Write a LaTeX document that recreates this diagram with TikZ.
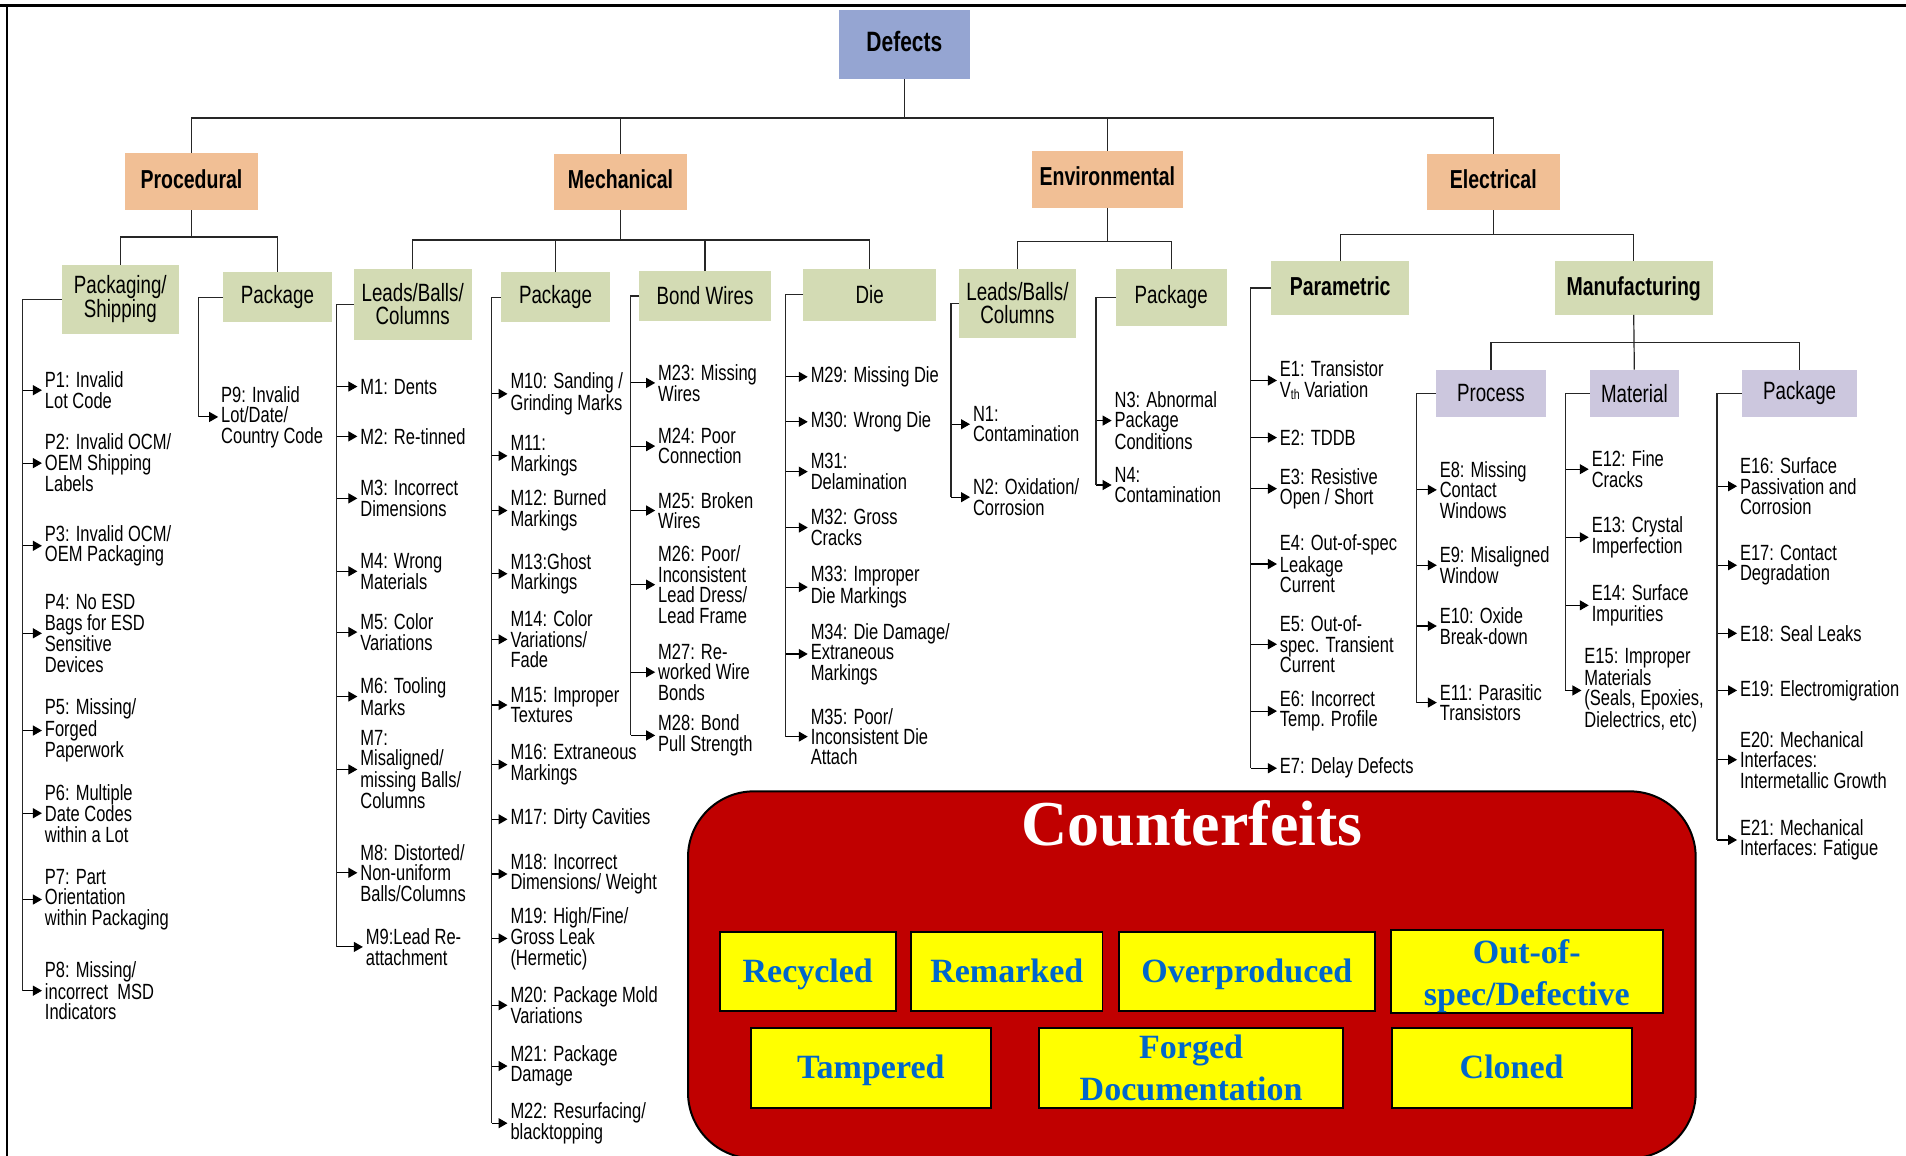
\documentclass[tikz,border=0pt]{standalone}
\usepackage{fontspec}
\usetikzlibrary{arrows.meta,calc}
\newfontfamily\nar{Liberation Sans}[FakeStretch=0.75]
\newfontfamily\tms{Liberation Serif}
\definecolor{cDef}{RGB}{149,165,210}
\definecolor{cOr}{RGB}{241,191,149}
\definecolor{cGr}{RGB}{211,219,180}
\definecolor{cLav}{RGB}{204,199,222}
\definecolor{cRed}{RGB}{192,0,0}
\definecolor{cYel}{RGB}{255,255,0}
\definecolor{cBlu}{RGB}{0,102,204}
\newcommand\lffont{\nar\fontsize{22}{20.5}\selectfont}
\newcommand\gbfont{\nar\fontsize{25}{23}\selectfont}
\newcommand\obfont{\nar\bfseries\fontsize{26}{26}\selectfont}
\newcommand\dffont{\nar\bfseries\fontsize{28}{28}\selectfont}
\newcommand\cfbfont{\tms\bfseries\fontsize{34}{42}\selectfont}
\newcommand\cftfont{\tms\bfseries\fontsize{64}{64}\selectfont}
\newcommand\thsub{\raisebox{-2.5pt}{\fontsize{14}{14}\selectfont th}}
\newcommand\lfnode[5]{\node[leaf] (#1) at (#2,#3) {#5}; \draw[arr] (#4 |- #1.west) -- (#1.west);}
\tikzset{
  wh/.style 2 args={minimum width=#1*1.2156pt, minimum height=#2*1.2156pt},
  box/.style={draw=none, align=center, inner sep=0pt, outer sep=0pt},
  gbox/.style={box, fill=cGr, font=\gbfont},
  obox/.style={box, fill=cOr, font=\obfont, text depth=6pt},
  lbox/.style={box, fill=cLav, font=\gbfont},
  leaf/.style={anchor=west, align=left, font=\lffont, inner xsep=3pt, inner ysep=0pt, outer sep=0pt},
  con/.style={line width=1.2pt, draw=black!85},
  arr/.style={line width=1.1pt, draw=black, -{Triangle[length=9pt,width=10pt]}},
  ybox/.style={draw=black, line width=1.8pt, fill=cYel, font=\cfbfont, text=cBlu, align=center, inner sep=0pt},
  yone/.style={ybox, text height=30pt, text depth=8pt},
}
\begin{document}
\begin{tikzpicture}[x=1.2156pt, y=-1.2156pt]
\useasboundingbox (0,0) rectangle (1568,951);
\clip (0,0) rectangle (1568,951);
\fill[white] (0,0) rectangle (1568,951);
% frame lines
\draw[line width=2.5pt] (0,4.5) -- (1568,4.5);
\draw[line width=2pt] (5.8,4.5) -- (5.8,951);

% top boxes
\node[box, fill=cDef, wh={108}{57}, font=\dffont, text depth=6pt] (defects) at (744,36.5) {Defects};
\node[obox, wh={109}{47}] (proc) at (157.5,149.5) {Procedural};
\node[obox, wh={109}{46}] (mech) at (510.5,150) {Mechanical};
\node[obox, wh={124}{47}] (env) at (911,147.5) {Environmental};
\node[obox, wh={109}{46}] (elec) at (1228.5,150) {Electrical};

% second level
\node[gbox, wh={96}{56.5}] (ps) at (99,246.25) {Packaging/\\Shipping};
\node[gbox, wh={89.5}{41}] (pp) at (228.25,244.5) {Package};
\node[gbox, wh={97}{59}] (ml) at (339.5,250.5) {Leads/Balls/\\Columns};
\node[gbox, wh={90}{41}] (mp) at (457,244.5) {Package};
\node[gbox, wh={108}{41}] (mb) at (580,243.5) {Bond Wires};
\node[gbox, wh={109}{43}] (md) at (715.5,242.5) {Die};
\node[gbox, wh={96}{57}] (nl) at (837,249.5) {Leads/Balls/\\Columns};
\node[gbox, wh={91}{47}] (np) at (963.5,244.5) {Package};
\node[gbox, font=\obfont, text depth=4pt, wh={113}{44}] (par) at (1102.5,237) {Parametric};
\node[gbox, font=\obfont, text depth=4pt, wh={130}{44}] (man) at (1344,237) {Manufacturing};
\node[lbox, wh={91}{39}] (pro) at (1226.5,323.5) {Process};
\node[lbox, wh={73}{39}] (mat) at (1344.5,323.5) {Material};
\node[lbox, wh={95}{39}] (epk) at (1480.5,323.5) {Package};

% tree connectors
\draw[con] (defects.south) -- (defects.south |- 0,97);
\draw[con] (proc.north) |- (elec.north |- 0,97) -- (elec.north);
\draw[con] (mech.north) -- (mech.north |- 0,97);
\draw[con] (env.north) -- (env.north |- 0,97);

\draw[con] (proc.south) -- (proc.south |- 0,195);
\draw[con] (ps.north) |- (pp.north |- 0,195) -- (pp.north);

\draw[con] (mech.south) -- (mech.south |- 0,197.5);
\draw[con] (ml.north) |- (md.north |- 0,197.5) -- (md.north);
\draw[con] (mp.north) -- (mp.north |- 0,197.5);
\draw[con] (mb.north) -- (mb.north |- 0,197.5);

\draw[con] (env.south) -- (env.south |- 0,199);
\draw[con] (nl.north) |- (np.north |- 0,199) -- (np.north);

\draw[con] (elec.south) -- (elec.south |- 0,193);
\draw[con] (par.north) |- (man.north |- 0,193) -- (man.north);

\draw[con] (man.south) -- (mat.north);
\draw[con] (pro.north) |- (epk.north |- 0,282) -- (epk.north);

% bracket x positions
\coordinate (psb) at (18.4,0);
\coordinate (ppb) at (163.4,0);
\coordinate (mlb) at (277,0);
\coordinate (mpb) at (404.5,0);
\coordinate (mbb) at (519,0);
\coordinate (mdb) at (646.3,0);
\coordinate (nlb) at (782.3,0);
\coordinate (npb) at (901.6,0);
\coordinate (epb) at (1029,0);
\coordinate (prb) at (1165.4,0);
\coordinate (emb) at (1287.7,0);
\coordinate (ekb) at (1412.5,0);

% Procedural leaves
\lfnode{p1}{34.5}{321}{psb}{P1: Invalid\\Lot Code}
\lfnode{p2}{34.5}{381}{psb}{P2: Invalid OCM/\\OEM Shipping\\Labels}
\lfnode{p3}{34.5}{449}{psb}{P3: Invalid OCM/\\OEM Packaging}
\lfnode{p4}{34.5}{521}{psb}{P4: No ESD\\Bags for ESD\\Sensitive\\Devices}
\lfnode{p5}{34.5}{601}{psb}{P5: Missing/\\Forged\\Paperwork}
\lfnode{p6}{34.5}{669}{psb}{P6: Multiple\\Date Codes\\within a Lot}
\lfnode{p7}{34.5}{740}{psb}{P7: Part\\Orientation\\within Packaging}
\lfnode{p8}{34.5}{815}{psb}{P8: Missing/\\incorrect\ \ MSD\\Indicators}
\draw[con] (ps.west) -| (psb |- p8.west);

\lfnode{p9}{179.5}{343}{ppb}{P9: Invalid\\Lot/Date/\\Country Code}
\draw[con] (pp.west) -| (ppb |- p9.west);

% Mechanical leaves
\lfnode{m1}{294}{318}{mlb}{M1: Dents}
\lfnode{m2}{294}{359}{mlb}{M2: Re-tinned}
\lfnode{m3}{294}{410}{mlb}{M3: Incorrect\\Dimensions}
\lfnode{m4}{294}{470}{mlb}{M4: Wrong\\Materials}
\lfnode{m5}{294}{520}{mlb}{M5: Color\\Variations}
\lfnode{m6}{294}{573}{mlb}{M6: Tooling\\Marks}
\lfnode{m7}{294}{633}{mlb}{M7:\\Misaligned/\\missing Balls/\\Columns}
\lfnode{m8}{294}{718}{mlb}{M8: Distorted/\\Non-uniform\\Balls/Columns}
\lfnode{m9}{298.5}{779}{mlb}{M9:Lead Re-\\attachment}
\draw[con] (ml.west) -| (mlb |- m9.west);

\lfnode{m10}{417.5}{324}{mpb}{M10: Sanding /\\Grinding Marks}
\lfnode{m11}{417.5}{375}{mpb}{M11:\\Markings}
\lfnode{m12}{417.5}{420}{mpb}{M12: Burned\\Markings}
\lfnode{m13}{417.5}{472}{mpb}{M13:Ghost\\Markings}
\lfnode{m14}{417.5}{526}{mpb}{M14: Color\\Variations/\\Fade}
\lfnode{m15}{417.5}{580}{mpb}{M15: Improper\\Textures}
\lfnode{m16}{417.5}{629}{mpb}{M16: Extraneous\\Markings}
\lfnode{m17}{417.5}{674}{mpb}{M17: Dirty Cavities}
\lfnode{m18}{417.5}{719}{mpb}{M18: Incorrect\\Dimensions/ Weight}
\lfnode{m19}{417.5}{772}{mpb}{M19: High/Fine/\\Gross Leak\\(Hermetic)}
\lfnode{m20}{417.5}{827}{mpb}{M20: Package Mold\\Variations}
\lfnode{m21}{417.5}{877}{mpb}{M21: Package\\Damage}
\lfnode{m22}{417.5}{924}{mpb}{M22: Resurfacing/\\blacktopping}
\draw[con] (mp.west) -| (mpb |- m22.west);

\lfnode{m23}{539}{315}{mbb}{M23: Missing\\Wires}
\lfnode{m24}{539}{367}{mbb}{M24: Poor\\Connection}
\lfnode{m25}{539}{420}{mbb}{M25: Broken\\Wires}
\lfnode{m26}{539}{481}{mbb}{M26: Poor/\\Inconsistent\\Lead Dress/\\Lead Frame}
\lfnode{m27}{539}{553}{mbb}{M27: Re-\\worked Wire\\Bonds}
\lfnode{m28}{539}{605}{mbb}{M28: Bond\\Pull Strength}
\draw[con] (mb.west) -| (mbb |- m28.west);

\lfnode{m29}{664.5}{310}{mdb}{M29: Missing Die}
\lfnode{m30}{664.5}{347}{mdb}{M30: Wrong Die}
\lfnode{m31}{664.5}{388}{mdb}{M31:\\Delamination}
\lfnode{m32}{664.5}{434}{mdb}{M32: Gross\\Cracks}
\lfnode{m33}{664.5}{483}{mdb}{M33: Improper\\Die Markings}
\lfnode{m34}{664.5}{538}{mdb}{M34: Die Damage/\\Extraneous\\Markings}
\lfnode{m35}{664.5}{606}{mdb}{M35: Poor/\\Inconsistent Die\\Attach}
\draw[con] (md.west) -| (mdb |- m35.west);

% Environmental leaves
\lfnode{n1}{798}{349}{nlb}{N1:\\Contamination}
\lfnode{n2}{798}{409}{nlb}{N2: Oxidation/\\Corrosion}
\draw[con] (nl.west) -| (nlb |- n2.west);
\lfnode{n3}{914.5}{346}{npb}{N3: Abnormal\\Package\\Conditions}
\lfnode{n4}{914.5}{399}{npb}{N4:\\Contamination}
\draw[con] (np.west) -| (npb |- n4.west);

% Electrical leaves
\lfnode{e1}{1050.5}{313}{epb}{E1: Transistor\\V\thsub{} Variation}
\lfnode{e2}{1050.5}{360}{epb}{E2: TDDB}
\lfnode{e3}{1050.5}{402}{epb}{E3: Resistive\\Open / Short}
\lfnode{e4}{1050.5}{464}{epb}{E4: Out-of-spec\\Leakage\\Current}
\lfnode{e5}{1050.5}{530}{epb}{E5: Out-of-\\spec. Transient\\Current}
\lfnode{e6}{1050.5}{585}{epb}{E6: Incorrect\\Temp. Profile}
\lfnode{e7}{1050.5}{632}{epb}{E7: Delay Defects}
\draw[con] (par.west) -| (epb |- e7.west);

\lfnode{e8}{1182}{403}{prb}{E8: Missing\\Contact\\Windows}
\lfnode{e9}{1182}{465}{prb}{E9: Misaligned\\Window}
\lfnode{e10}{1182}{515}{prb}{E10: Oxide\\Break-down}
\lfnode{e11}{1182}{578}{prb}{E11: Parasitic\\Transistors}
\draw[con] (pro.west) -| (prb |- e11.west);

\lfnode{e12}{1307}{386}{emb}{E12: Fine\\Cracks}
\lfnode{e13}{1307}{442}{emb}{E13: Crystal\\Imperfection}
\lfnode{e14}{1307}{498}{emb}{E14: Surface\\Impurities}
\lfnode{e15}{1301}{568}{emb}{E15: Improper\\Materials\\(Seals, Epoxies,\\Dielectrics, etc)}
\draw[con] (mat.west) -| (emb |- e15.west);

\lfnode{e16}{1429}{400}{ekb}{E16: Surface\\Passivation and\\Corrosion}
\lfnode{e17}{1429}{465}{ekb}{E17: Contact\\Degradation}
\lfnode{e18}{1429}{521}{ekb}{E18: Seal Leaks}
\lfnode{e19}{1429}{568}{ekb}{E19: Electromigration}
\lfnode{e20}{1429}{625}{ekb}{E20: Mechanical\\Interfaces:\\Intermetallic Growth}
\lfnode{e21}{1429}{691}{ekb}{E21: Mechanical\\Interfaces: Fatigue}
\draw[con] (epk.west) -| (ekb |- e21.west);

% Counterfeits block
\node[draw=black, line width=2pt, fill=cRed, rounded corners=66pt, wh={829}{302}] (cf) at (980.5,802) {};
\node[font=\cftfont, text=white, inner sep=0pt] (cft) at (980.5,677) {Counterfeits};
\node[yone, wh={145}{65.6}] (rec) at (664.5,799.2) {Recycled};
\node[yone, wh={157.5}{65.6}] (rem) at (828.25,799.2) {Remarked};
\node[yone, wh={210.5}{65.6}] (ovp) at (1025.75,799.2) {Overproduced};
\node[ybox, wh={224}{65.6}] (oos) at (1256,799.2) {\rule{0pt}{34pt}Out-of-\\spec/Defective};
\node[yone, wh={197.8}{65.8}] (tam) at (716.4,878.3) {Tampered};
\node[ybox, wh={249.8}{65.8}] (fdc) at (979.9,878.3) {Forged\\Documentation};
\node[yone, wh={197.4}{65.8}] (clo) at (1243.6,878.3) {Cloned};
\end{tikzpicture}
\end{document}
